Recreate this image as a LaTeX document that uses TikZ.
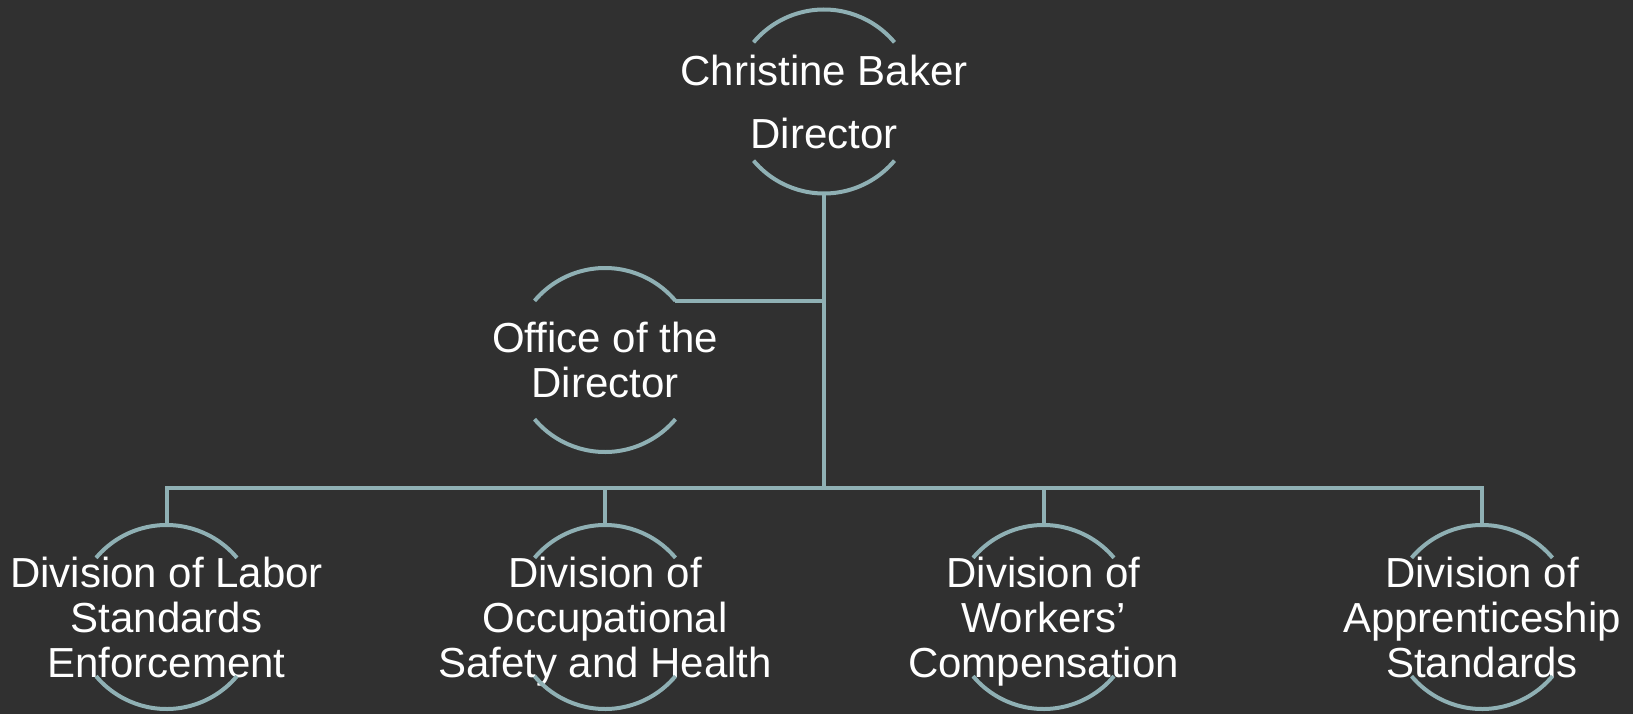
\documentclass[tikz,border=0pt]{standalone}
\usepackage{fontspec}
\setmainfont{Liberation Sans}
\usepackage{tikz}
\definecolor{bgdark}{HTML}{303030}
\definecolor{linkblue}{HTML}{8FB0B4}

\begin{document}
\begin{tikzpicture}[x=0.5pt,y=0.5pt,line width=2pt]
  \tikzstyle{unit}=[text=white,align=center,inner sep=0pt,
                    font=\fontsize{21}{22.5}\selectfont]
  \tikzstyle{link}=[draw=linkblue]

  \fill[bgdark] (0,0) rectangle (1633,714);
  \useasboundingbox (0,0) rectangle (1633,714);

  \node[unit] (dir) at (824,612.5)  {Christine Baker\\[9pt]Director};
  \node[unit] (off) at (605,354)    {Office of the\\Director};
  \node[unit] (lse) at (166.5,97)   {Division of Labor\\Standards\\Enforcement};
  \node[unit] (osh) at (605,97)     {Division of\\Occupational\\\smash{Safety and Health}};
  \node[unit] (wc)  at (1043.5,97)  {Division of\\Workers’\\\smash{Compensation}};
  \node[unit] (das) at (1482,97)    {Division of\\Apprenticeship\\Standards};

  \coordinate (bus) at (824,226);
  \coordinate (offtip) at ([shift={(40:46pt)}]off.center);

  % arcs round each unit
  \foreach \n in {dir,off,lse,osh,wc,das}{
    \draw[link] ([shift={(40:46pt)}]\n.center) arc[start angle=40,end angle=140,radius=46pt];
    \draw[link] ([shift={(220:46pt)}]\n.center) arc[start angle=220,end angle=320,radius=46pt];
  }

  \draw[link] ([yshift=-46pt]dir.center) -- (bus);
  \draw[link] (offtip) -- (offtip -| bus);
  \foreach \n in {lse,osh,wc,das}
    \draw[link] ([yshift=46pt]\n.center) |- (bus);
\end{tikzpicture}
\end{document}
